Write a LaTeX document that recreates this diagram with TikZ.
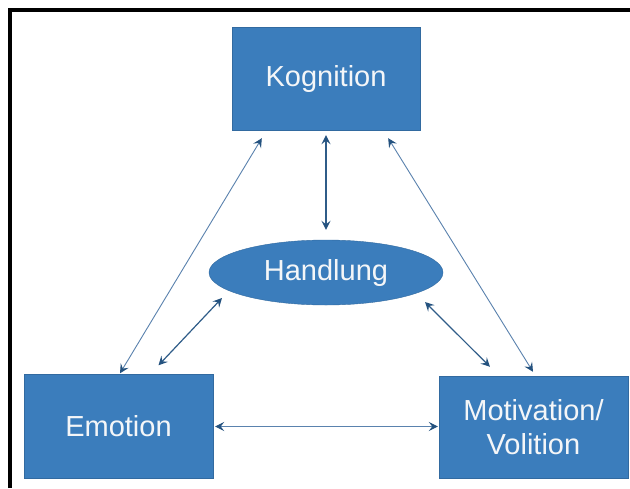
\documentclass[tikz,border=0pt]{standalone}
\usepackage{fontspec}
\setmainfont{Liberation Sans}
\usetikzlibrary{arrows.meta,shapes.geometric}
\definecolor{boxblue}{HTML}{3B7DBC}
\definecolor{linkblue}{HTML}{5A82AE}
\definecolor{tipblue}{HTML}{24527F}
\definecolor{textwhite}{HTML}{F4F6F8}
\tikzset{
  block/.style={rectangle, fill=boxblue, draw=boxblue!85!black, line width=0.4pt,
    text=textwhite, font=\fontsize{29}{34}\selectfont, align=center, inner sep=0pt},
  oval/.style={ellipse, fill=boxblue, draw=boxblue!85!black, line width=0.4pt,
    text=textwhite, font=\fontsize{29}{34}\selectfont, inner sep=0pt},
  link/.style={draw=linkblue, line width=0.9pt,
    {Stealth[length=9pt,width=9pt,inset=3.5pt,color=tipblue]}-{Stealth[length=9pt,width=9pt,inset=3.5pt,color=tipblue]}},
  innerlink/.style={link, draw=tipblue!80!linkblue, line width=1.2pt},
  frame/.style={draw=black, line width=4pt}
}
\begin{document}
\begin{tikzpicture}[x=1pt,y=-1pt]
  \clip (0,0) rectangle (630,488);
  \fill[white] (0,0) rectangle (630,488);
  % outer frame (only top and left edges lie inside the page)
  \draw[frame] (10,488) -- (10,10) -- (630,10);

  % the four concepts
  \node[block, minimum width=188pt, minimum height=103pt] (kog) at (326,78.5) {Kognition};
  \node[oval, minimum width=234pt, minimum height=65pt] (hand) at (326,272.5) {Handlung};
  \node[block, minimum width=189pt, minimum height=104pt] (emo) at (118.5,426.5) {Emotion};
  \node[block, minimum width=189pt, minimum height=102pt] (mot) at (533.5,427) {Motivation/\\Volition};

  % outer triangle
  \draw[link] ([xshift=30pt,yshift=-8pt]kog.south west) -- ([xshift=1.5pt,yshift=1pt]emo.north);
  \draw[link] ([xshift=-32pt,yshift=-8pt]kog.south east) -- ([xshift=-0.5pt,yshift=4pt]mot.north);
  \draw[link] ([xshift=2pt]emo.east) -- ([xshift=-1pt]mot.west |- emo.east);

  % links to the action
  \draw[innerlink] ([yshift=-5pt]kog.south) -- ([yshift=10pt]hand.north);
  \draw[innerlink] ([xshift=-104pt,yshift=-25.5pt]hand.center) -- ([xshift=40pt,yshift=9pt]emo.north);
  \draw[innerlink] ([xshift=99pt,yshift=-29.5pt]hand.center) -- ([xshift=-43.5pt,yshift=9pt]mot.north);
\end{tikzpicture}
\end{document}
